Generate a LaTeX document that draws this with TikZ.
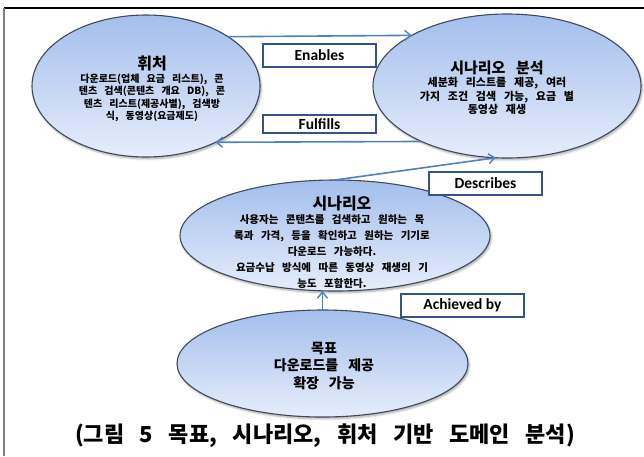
\documentclass[tikz,border=0pt]{standalone}
\usepackage{fontspec}
\setmainfont{Noto Sans CJK KR}
\newfontfamily\kr{Noto Sans CJK KR}
\newfontfamily\krwide[WordSpace=3.1]{Noto Sans CJK KR}
\newfontfamily\lat{Carlito}
\usetikzlibrary{shapes.geometric,arrows.meta,shadows.blur}
\definecolor{ellfill1}{RGB}{163,191,236}
\definecolor{ellfillm}{RGB}{203,219,246}
\definecolor{ellfill2}{RGB}{230,237,251}
\definecolor{elldraw}{RGB}{64,74,90}
\definecolor{arrcol}{RGB}{79,129,189}
\definecolor{boxcol}{RGB}{50,85,130}
\newcommand{\ttl}[1]{\fontsize{#1}{#1}\selectfont}
\tikzset{
  blob/.style={ellipse, inner sep=0pt, outer sep=0pt, draw=elldraw, line width=1.1pt,
    top color=ellfill1, middle color=ellfillm, bottom color=ellfill2,
    blur shadow={shadow xshift=1.2pt, shadow yshift=-1.8pt, shadow blur steps=5, shadow opacity=35}},
  blobtext/.style={align=center, text=black, inner sep=0pt},
  lbl/.style={draw=boxcol, fill=white, line width=1.1pt, font=\lat\bfseries\fontsize{15.5}{17}\selectfont,
    minimum width=113pt, minimum height=23pt, inner sep=0pt},
  conn/.style={draw=arrcol, line width=1.6pt, -{Straight Barb[length=6pt,width=10pt,line width=1.4pt]}},
}
\begin{document}
\begin{tikzpicture}[x=1pt,y=-1pt]
\useasboundingbox (0,0) rectangle (644,456);
% frame
\draw[black, line width=1.5pt] (4,8) -- (644,8);
\draw[gray, line width=1.5pt] (4,8) -- (4,456);

% ellipses
\node[blob, minimum width=228pt, minimum height=142pt] (hwi) at (146,86) {};
\node[blob, minimum width=268pt, minimum height=144pt] (sa) at (507,86) {};
\node[blob, minimum width=310pt, minimum height=111pt] (mid) at (335,235.5) {};
\node[blob, minimum width=291pt, minimum height=107pt] (goal) at (322.5,363.5) {};

% texts
\node[blobtext] (hwit) at (152,89) {\kr\bfseries\ttl{16}휘처\\[1pt]%
\kr\bfseries\ttl{10}다운로드(업체 요금 리스트), 콘\\[0.5pt]%
\kr\bfseries\ttl{10}텐츠 검색(콘텐츠 개요 DB), 콘\\[0.5pt]%
\kr\bfseries\ttl{10}텐츠 리스트(제공사별), 검색방\\[0.5pt]%
\kr\bfseries\ttl{10}식, 동영상(요금제도)};
\node[blobtext] (sat) at (497,88) {\kr\bfseries\ttl{15}시나리오 분석\\[1pt]%
\kr\bfseries\ttl{11}세분화 리스트를 제공, 여러\\[1.5pt]%
\kr\bfseries\ttl{11}가지 조건 검색 가능, 요금 별\\[1.5pt]%
\kr\bfseries\ttl{11}동영상 재생};
\node[blobtext] (midt) at (332,242) {\kr\bfseries\ttl{16}\hspace*{20pt}시나리오\\[2pt]%
\kr\bfseries\ttl{10.5}사용자는 콘텐츠를 검색하고 원하는 목\\[4pt]%
\kr\bfseries\ttl{10.5}록과 가격, 등을 확인하고 원하는 기기로\\[4pt]%
\kr\bfseries\ttl{10.5}다운로드 가능하다.\\[4pt]%
\kr\bfseries\ttl{10.5}요금수납 방식에 따른 동영상 재생의 기\\[4pt]%
\kr\bfseries\ttl{10.5}능도 포함한다.};
\node[blobtext, font=\kr\bfseries\ttl{14}] (goalt) at (324,366) {목표\\[3.5pt]다운로드를 제공\\[3.5pt]확장 가능};

% labels
\node[lbl] (en) at (319.5,55.5) {Enables};
\node[lbl, minimum height=18pt] (fu) at (319.5,124) {Fulfills};
\node[lbl] (de) at (485.5,183.5) {Describes};
\node[lbl, minimum width=123pt] (ac) at (462.5,305.5) {Achieved by};

% connectors
\draw[conn] (hwi.31.7) -- (sa.152.6);
\draw[conn] (sa.213.6) -- (hwi.321.3);
\draw[conn] (mid.north) -- (sa.261);
\draw[conn] (goal.north) -- (goal.north |- mid.south);

% caption
\node[font=\krwide\bfseries\ttl{22}] (cap) at (325,436) {(그림 5 목표, 시나리오, 휘처 기반 도메인 분석)};
\end{tikzpicture}
\end{document}
